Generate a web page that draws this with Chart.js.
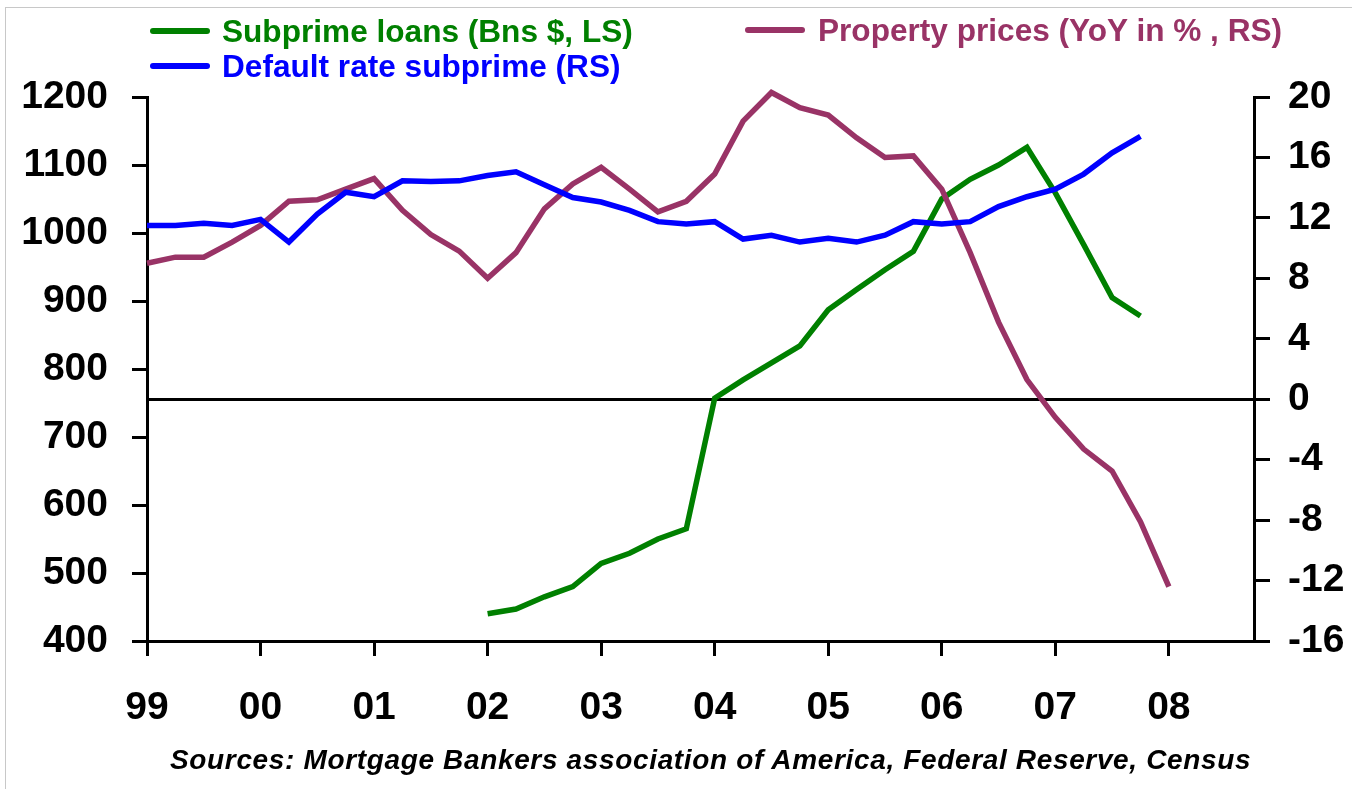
<!DOCTYPE html>
<html>
<head>
<meta charset="utf-8">
<script src="https://cdn.jsdelivr.net/npm/chart.js@4.4.1/dist/chart.umd.min.js"></script>
<style>
  html, body { margin: 0; padding: 0; background: #fff; }
  #wrap { position: relative; width: 1352px; height: 789px; overflow: hidden; font-family: "Liberation Sans", Arial, sans-serif; }
  #frame { position: absolute; left: 5px; top: 7px; width: 1400px; height: 900px; border-top: 1px solid #c8c8c8; border-left: 1px solid #c8c8c8; }
  canvas { position: absolute; left: 0; top: 0; }
  .lg-line { position: absolute; height: 6px; border-radius: 3px; }
  .lg-text { position: absolute; font-weight: bold; font-size: 31.6px; line-height: 32px; white-space: nowrap; }
  #source { position: absolute; left: 170px; top: 746px; font-weight: bold; font-style: italic; font-size: 28px; line-height: 28px; letter-spacing: 0.65px; white-space: nowrap; color: #000; }
</style>
</head>
<body>
<div id="wrap">
  <div id="frame"></div>
  <canvas id="c" width="1352" height="789"></canvas>
  <div class="lg-line" style="left:150px; top:28px; width:60px; background:#008000;"></div>
  <div class="lg-text" style="left:222px; top:15px; color:#008000;">Subprime loans (Bns $, LS)</div>
  <div class="lg-line" style="left:150px; top:63px; width:60px; background:#0000FF;"></div>
  <div class="lg-text" style="left:222px; top:50px; color:#0000FF;">Default rate subprime (RS)</div>
  <div class="lg-line" style="left:745px; top:27px; width:60px; background:#993366;"></div>
  <div class="lg-text" style="left:818px; top:14px; color:#993366;">Property prices (YoY in % , RS)</div>
  <div id="source">Sources: Mortgage Bankers association of America, Federal Reserve, Census</div>
</div>
<script>
// Year tick labels (one per year, quarterly x index 0 = 1999Q1)
const yearLabels = ['99','00','01','02','03','04','05','06','07','08'];
const leftTicks = [400, 500, 600, 700, 800, 900, 1000, 1100, 1200];
const rightTicks = [-16, -12, -8, -4, 0, 4, 8, 12, 16, 20];

// Property prices, YoY % (RS), quarterly from 1999Q1
const propertyPrices = [9.0, 9.4, 9.4, 10.4, 11.5, 13.1, 13.2, 13.9, 14.6, 12.5, 10.9, 9.8,
  8.0, 9.7, 12.6, 14.25, 15.35, 13.9, 12.4, 13.1, 14.9, 18.4, 20.3, 19.3,
  18.8, 17.3, 16.0, 16.1, 13.9, 9.7, 5.1, 1.3, -1.2, -3.3, -4.75, -8.1, -12.4];

// Default rate subprime (RS), quarterly from 1999Q1
const defaultRate = [11.5, 11.5, 11.65, 11.5, 11.9, 10.4, 12.25, 13.7, 13.4, 14.45, 14.4, 14.45,
  14.8, 15.05, 14.2, 13.35, 13.05, 12.5, 11.75, 11.6, 11.75, 10.6, 10.85, 10.4,
  10.65, 10.4, 10.85, 11.75, 11.6, 11.75, 12.75, 13.4, 13.9, 14.9, 16.3, 17.4];

// Subprime loans, Bns $ (LS), quarterly from 2002Q1
const loansStartQuarter = 12;
const subprimeLoans = [440, 447, 465, 480, 514, 529, 550, 565, 757, 784, 809, 834,
  887, 917, 946, 973, 1050, 1079, 1100, 1126, 1059, 983, 905, 878];

const xMax = 39;
const FONT = '"Liberation Sans", Arial, sans-serif';

const toPts = (arr, start) => arr.map((v, i) => ({ x: start + i, y: v }));

new Chart(document.getElementById('c'), {
  type: 'line',
  data: {
    datasets: [
      { label: 'Default rate subprime (RS)', data: toPts(defaultRate, 0), yAxisID: 'yR',
        borderColor: '#0000FF', borderWidth: 5.5, pointRadius: 0, tension: 0, order: 0, clip: false },
      { label: 'Property prices (YoY in % , RS)', data: toPts(propertyPrices, 0), yAxisID: 'yR',
        borderColor: '#993366', borderWidth: 5.5, pointRadius: 0, tension: 0, order: 1, clip: false },
      { label: 'Subprime loans (Bns $, LS)', data: toPts(subprimeLoans, loansStartQuarter), yAxisID: 'yL',
        borderColor: '#008000', borderWidth: 5.5, pointRadius: 0, tension: 0, order: 2, clip: false }
    ]
  },
  options: {
    responsive: false,
    animation: false,
    devicePixelRatio: 1,
    layout: { padding: { top: 97, left: 0, right: 0, bottom: 0 } },
    plugins: { legend: { display: false }, tooltip: { enabled: false } },
    scales: {
      x: {
        type: 'linear', min: 0, max: xMax,
        afterBuildTicks: s => { s.ticks = yearLabels.map((_, i) => ({ value: i * 4 })); },
        afterFit: s => { s.height = 789 - 641; },
        ticks: { callback: v => yearLabels[v / 4], color: '#000', font: { family: FONT, size: 39, weight: 'bold' },
                 padding: 29, maxRotation: 0, autoSkip: false },
        grid: { drawOnChartArea: false, tickLength: 15, tickColor: '#000', tickWidth: 3 },
        border: { color: '#000', width: 3 }
      },
      yL: {
        type: 'linear', position: 'left', min: 400, max: 1200,
        afterBuildTicks: s => { s.ticks = leftTicks.map(v => ({ value: v })); },
        afterFit: s => { s.width = 147; },
        ticks: { callback: v => String(v), color: '#000', font: { family: FONT, size: 39, weight: 'bold' }, padding: 24 },
        grid: { drawOnChartArea: false, tickLength: 15, tickColor: '#000', tickWidth: 3 },
        border: { color: '#000', width: 3 }
      },
      yR: {
        type: 'linear', position: 'right', min: -16, max: 20,
        afterBuildTicks: s => { s.ticks = rightTicks.map(v => ({ value: v })); },
        afterFit: s => { s.width = 1352 - 1254; },
        ticks: { callback: v => String(v), color: '#000', font: { family: FONT, size: 39, weight: 'bold' }, padding: 18 },
        grid: { drawOnChartArea: true, color: c => (c.tick && c.tick.value === 0) ? '#000' : 'rgba(0,0,0,0)',
                lineWidth: 3, tickLength: 16, tickColor: '#000', tickWidth: 3 },
        border: { color: '#000', width: 3 }
      }
    }
  }
});
</script>
</body>
</html>
